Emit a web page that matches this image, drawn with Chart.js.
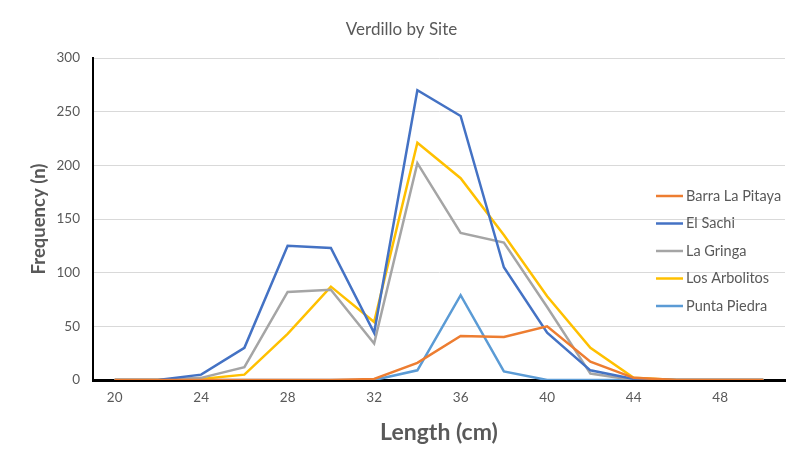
<!DOCTYPE html>
<html>
<head>
<meta charset="utf-8">
<title>Verdillo by Site</title>
<script src="https://cdn.jsdelivr.net/npm/chart.js@4/dist/chart.umd.min.js"></script>
<style>
  html, body { margin: 0; padding: 0; background: #ffffff; }
  #wrap { width: 787px; height: 459px; }
</style>
</head>
<body>
<div id="wrap"><canvas id="verdilloChart" width="787" height="459"></canvas></div>
<script>
// length classes (cm)
const lengths = [20, 22, 24, 26, 28, 30, 32, 34, 36, 38, 40, 42, 44, 46, 48, 50];

// frequency per site
const barraLaPitaya = [0, 0, 0, 0, 0, 0, 1, 16, 41, 40, 50, 17, 2, 0, 0, 0];
const elSachi       = [0, 0, 5, 30, 125, 123, 44, 270, 246, 105, 44, 9, 1, 0, 0, 0];
const laGringa      = [0, 0, 2, 12, 82, 84, 34, 202, 137, 128, 68, 6, 0, 0, 0, 0];
const losArbolitos  = [0, 0, 1, 5, 43, 87, 54, 221, 188, 135, 78, 30, 2, 0, 0, 0];
const puntaPiedra   = [0, 0, 0, 0, 0, 0, 0, 9, 79, 8, 0, 0, 0, 0, 0, 0];

const siteNames  = ['Barra La Pitaya', 'El Sachi', 'La Gringa', 'Los Arbolitos', 'Punta Piedra'];
const siteColors = ['#ED7D31', '#4472C4', '#A5A5A5', '#FFC000', '#5B9BD5'];
const siteValues = [barraLaPitaya, elSachi, laGringa, losArbolitos, puntaPiedra];

const yTicks = [0, 50, 100, 150, 200, 250, 300];

const FONT = 'Lato, "Noto Sans", sans-serif';
const GREY = '#595959';

// legend sits inside the plot on the right, like the spreadsheet version
const insideLegend = {
    id: 'insideLegend',
    afterLayout(chart) {
        // nudge the title a little right of the canvas centre
        if (chart.titleBlock) chart.titleBlock.left += 18;
    },
    afterDraw(chart) {
        const ctx = chart.ctx;
        const x0 = 656, lineLen = 27, yStart = 196, step = 27.5;
        ctx.save();
        ctx.font = '14.5px ' + FONT;
        ctx.textBaseline = 'middle';
        chart.data.datasets.forEach((ds, i) => {
            const y = yStart + i * step;
            ctx.strokeStyle = ds.borderColor;
            ctx.lineWidth = 2.5;
            ctx.beginPath();
            ctx.moveTo(x0, y);
            ctx.lineTo(x0 + lineLen, y);
            ctx.stroke();
            ctx.fillStyle = GREY;
            ctx.fillText(ds.label, x0 + lineLen + 3, y);
        });
        ctx.restore();
    }
};

function buildDatasets() {
    return siteNames.map((name, i) => ({
        label: name,
        data: siteValues[i],
        borderColor: siteColors[i],
        backgroundColor: siteColors[i],
        borderWidth: 2.5,
        pointRadius: 0,
        tension: 0,
        fill: false
    }));
}

new Chart(document.getElementById('verdilloChart'), {
    type: 'line',
    data: {
        labels: lengths,
        datasets: buildDatasets()
    },
    options: {
        responsive: false,
        animation: false,
        layout: { padding: { left: 0, right: 2, top: 0, bottom: 0 } },
        plugins: {
            legend: { display: false },
            tooltip: { enabled: false },
            title: {
                display: true,
                text: 'Verdillo by Site',
                color: GREY,
                font: { family: FONT, size: 17, weight: 'normal' },
                padding: { top: 19, bottom: 18.6 }
            }
        },
        scales: {
            x: {
                offset: true,
                grid: { display: false, drawTicks: false },
                border: { display: true, color: '#000000', width: 3 },
                afterFit(scale) { scale.height = 79; },
                ticks: {
                    color: GREY,
                    font: { family: FONT, size: 13.5 },
                    padding: 10,
                    autoSkip: false,
                    maxRotation: 0,
                    callback: function(value, index) {
                        return index % 2 === 0 ? lengths[index] : '';
                    }
                },
                title: {
                    display: true,
                    text: 'Length (cm)',
                    color: GREY,
                    font: { family: FONT, size: 23, weight: 'bold' },
                    padding: { top: 0, bottom: 13 }
                }
            },
            y: {
                min: 0,
                max: 300,
                afterFit(scale) { scale.width = 93; },
                afterBuildTicks(scale) {
                    scale.ticks = yTicks.map(v => ({ value: v }));
                },
                grid: { color: '#D9D9D9', lineWidth: 1, drawTicks: false },
                border: { display: true, color: '#000000', width: 2 },
                ticks: {
                    color: GREY,
                    font: { family: FONT, size: 13.5 },
                    padding: 13
                },
                title: {
                    display: true,
                    text: 'Frequency (n)',
                    color: GREY,
                    font: { family: FONT, size: 18.5, weight: 'bold' },
                    padding: { top: 28, bottom: 0 }
                }
            }
        }
    },
    plugins: [insideLegend]
});
</script>
</body>
</html>
